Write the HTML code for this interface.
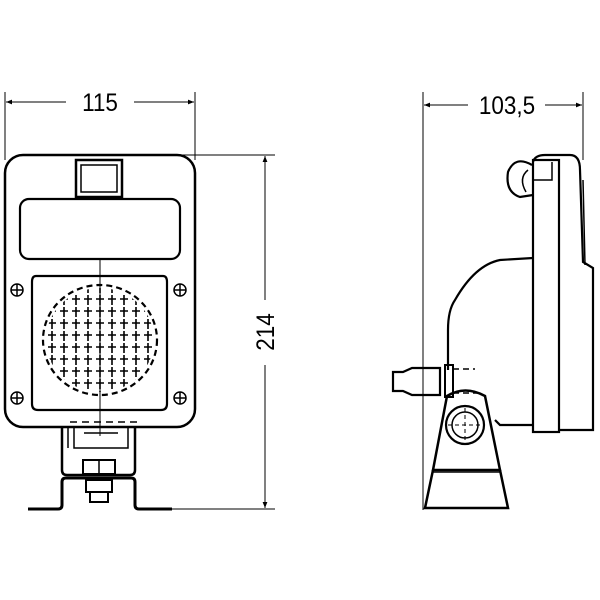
<!DOCTYPE html>
<html><head><meta charset="utf-8"><style>
html,body{margin:0;padding:0;background:#fff;}
svg{display:block;}
text{font-family:"Liberation Sans",sans-serif;font-size:25px;fill:#000;}
</style></head><body>
<svg width="600" height="600" viewBox="0 0 600 600" xmlns="http://www.w3.org/2000/svg">
<defs>
<marker id="ar" viewBox="0 0 10 10" refX="10" refY="5" markerWidth="10" markerHeight="6" orient="auto-start-reverse" markerUnits="userSpaceOnUse"><path d="M0,1 L10,5 L0,9 z" fill="#000"/></marker>
<pattern id="cr" x="46" y="294" width="12" height="12" patternUnits="userSpaceOnUse">
<path d="M6,1 V11 M2,5 H10" stroke="#000" stroke-width="1.6" fill="none"/>
</pattern>
<clipPath id="el"><ellipse cx="100" cy="340" rx="54" ry="52"/></clipPath>
</defs>
<g fill="none" stroke="#000">
<line x1="5" y1="92" x2="5" y2="160" stroke-width="1"/>
<line x1="195" y1="92" x2="195" y2="160" stroke-width="1"/>
<line x1="6" y1="102" x2="66" y2="102" stroke-width="1" marker-start="url(#ar)"/>
<line x1="134" y1="102" x2="194" y2="102" stroke-width="1" marker-end="url(#ar)"/>
<line x1="150" y1="155" x2="275" y2="155" stroke-width="1"/>
<line x1="172" y1="509" x2="275" y2="509" stroke-width="1"/>
<line x1="265" y1="156" x2="265" y2="300" stroke-width="1" marker-start="url(#ar)"/>
<line x1="265" y1="365" x2="265" y2="508" stroke-width="1" marker-end="url(#ar)"/>
<rect x="5" y="155" width="190" height="272" rx="18" stroke-width="2.5"/>
<rect x="76" y="160" width="46" height="37" stroke-width="2.5"/>
<rect x="81" y="165" width="36" height="27" stroke-width="1.5"/>
<rect x="20" y="199" width="160" height="60" rx="9" stroke-width="2.2"/>
<path d="M36,276 H163 Q167,276 167,282 V404 Q167,410 161,410 H38 Q32,410 32,404 V282 Q32,276 36,276 Z" stroke-width="2.2"/>
<g stroke-width="1.5">
<circle cx="17" cy="290" r="6"/><path d="M11,290h12M17,284v12"/>
<circle cx="180" cy="290" r="6"/><path d="M174,290h12M180,284v12"/>
<circle cx="17" cy="398" r="6"/><path d="M11,398h12M17,392v12"/>
<circle cx="180" cy="398" r="6"/><path d="M174,398h12M180,392v12"/>
</g>
<ellipse cx="100" cy="340" rx="57" ry="55" stroke-width="2.2" stroke-dasharray="6,4"/>
<rect x="40" y="280" width="120" height="120" fill="url(#cr)" stroke="none" clip-path="url(#el)"/>
<line x1="100" y1="258" x2="100" y2="436" stroke-width="1"/>
<line x1="70" y1="422" x2="140" y2="422" stroke-width="1.5" stroke-dasharray="7,5"/>
<path d="M62,428 V470 Q62,475 67,475 H130 Q135,475 135,470 V428" stroke-width="2.5"/>
<path d="M68,428 V448 M74,428 V448 H128 V428 M84,433 H118" stroke-width="1.5"/>
<rect x="83" y="460" width="32" height="14" stroke-width="2"/>
<line x1="99" y1="460" x2="99" y2="474" stroke-width="1.5"/>
<path d="M28,509 H58 Q62,509 62,505 V482 Q62,478 66,478 H131 Q135,478 135,482 V505 Q135,509 139,509 H172" stroke-width="3"/>
<rect x="86" y="480" width="26" height="12" stroke-width="2"/>
<rect x="90" y="492" width="18" height="10" stroke-width="2"/>
<line x1="423" y1="92" x2="423" y2="510" stroke-width="1"/>
<line x1="583" y1="92" x2="583" y2="160" stroke-width="1"/>
<line x1="424" y1="105" x2="468" y2="105" stroke-width="1" marker-start="url(#ar)"/>
<line x1="545" y1="105" x2="582" y2="105" stroke-width="1" marker-end="url(#ar)"/>
<path d="M533,162 Q535,155 545,155 H570 Q580,155 580,170 L583,262 L593,268 V430 H558" stroke-width="2.2"/>
<path d="M583,180 L585,265" stroke-width="1.5"/>
<rect x="533" y="160" width="26" height="272" stroke-width="2.2"/>
<path d="M533,180 H552 V162" stroke-width="1.5"/>
<path d="M532,165 Q515,155 508,172 Q505,192 520,197 L533,195" stroke-width="2.2"/>
<path d="M528,170 Q518,178 526,192" stroke-width="1.5"/>
<path d="M533,258 L500,260 Q475,265 455,300 Q448,310 448,330 V370" stroke-width="2.2"/>
<path d="M495,420 L500,425 H533" stroke-width="2.2"/>
<path d="M393,372 H403 L412,368 H440 V395 H412 L403,391 H393 Z" stroke-width="2.2"/>
<rect x="445" y="365" width="8" height="32" stroke-width="2"/>
<path d="M453,369 H475 M453,393 H480" stroke-width="1.5" stroke-dasharray="6,4"/>
<path d="M447,396 Q465,385 485,396 L500,470 H433 Z" stroke-width="2.5"/>
<circle cx="465" cy="425" r="19" stroke-width="2.2"/>
<circle cx="465" cy="425" r="13" stroke-width="1.5"/>
<path d="M448,425 H482 M465,408 V442" stroke-width="1" stroke-dasharray="4,3"/>
<path d="M433,470 L425,508 H508 L500,470" stroke-width="2.5"/>
<line x1="433" y1="472" x2="500" y2="472" stroke-width="1.5"/>
</g>
<text x="100" y="111" text-anchor="middle" transform="translate(100,0) scale(0.9,1) translate(-100,0)">115</text>
<text x="507" y="114" text-anchor="middle" transform="translate(507,0) scale(0.9,1) translate(-507,0)">103,5</text>
<text x="0" y="0" text-anchor="middle" transform="translate(274,332) rotate(-90) scale(0.9,1)">214</text>
</svg>
</body></html>
